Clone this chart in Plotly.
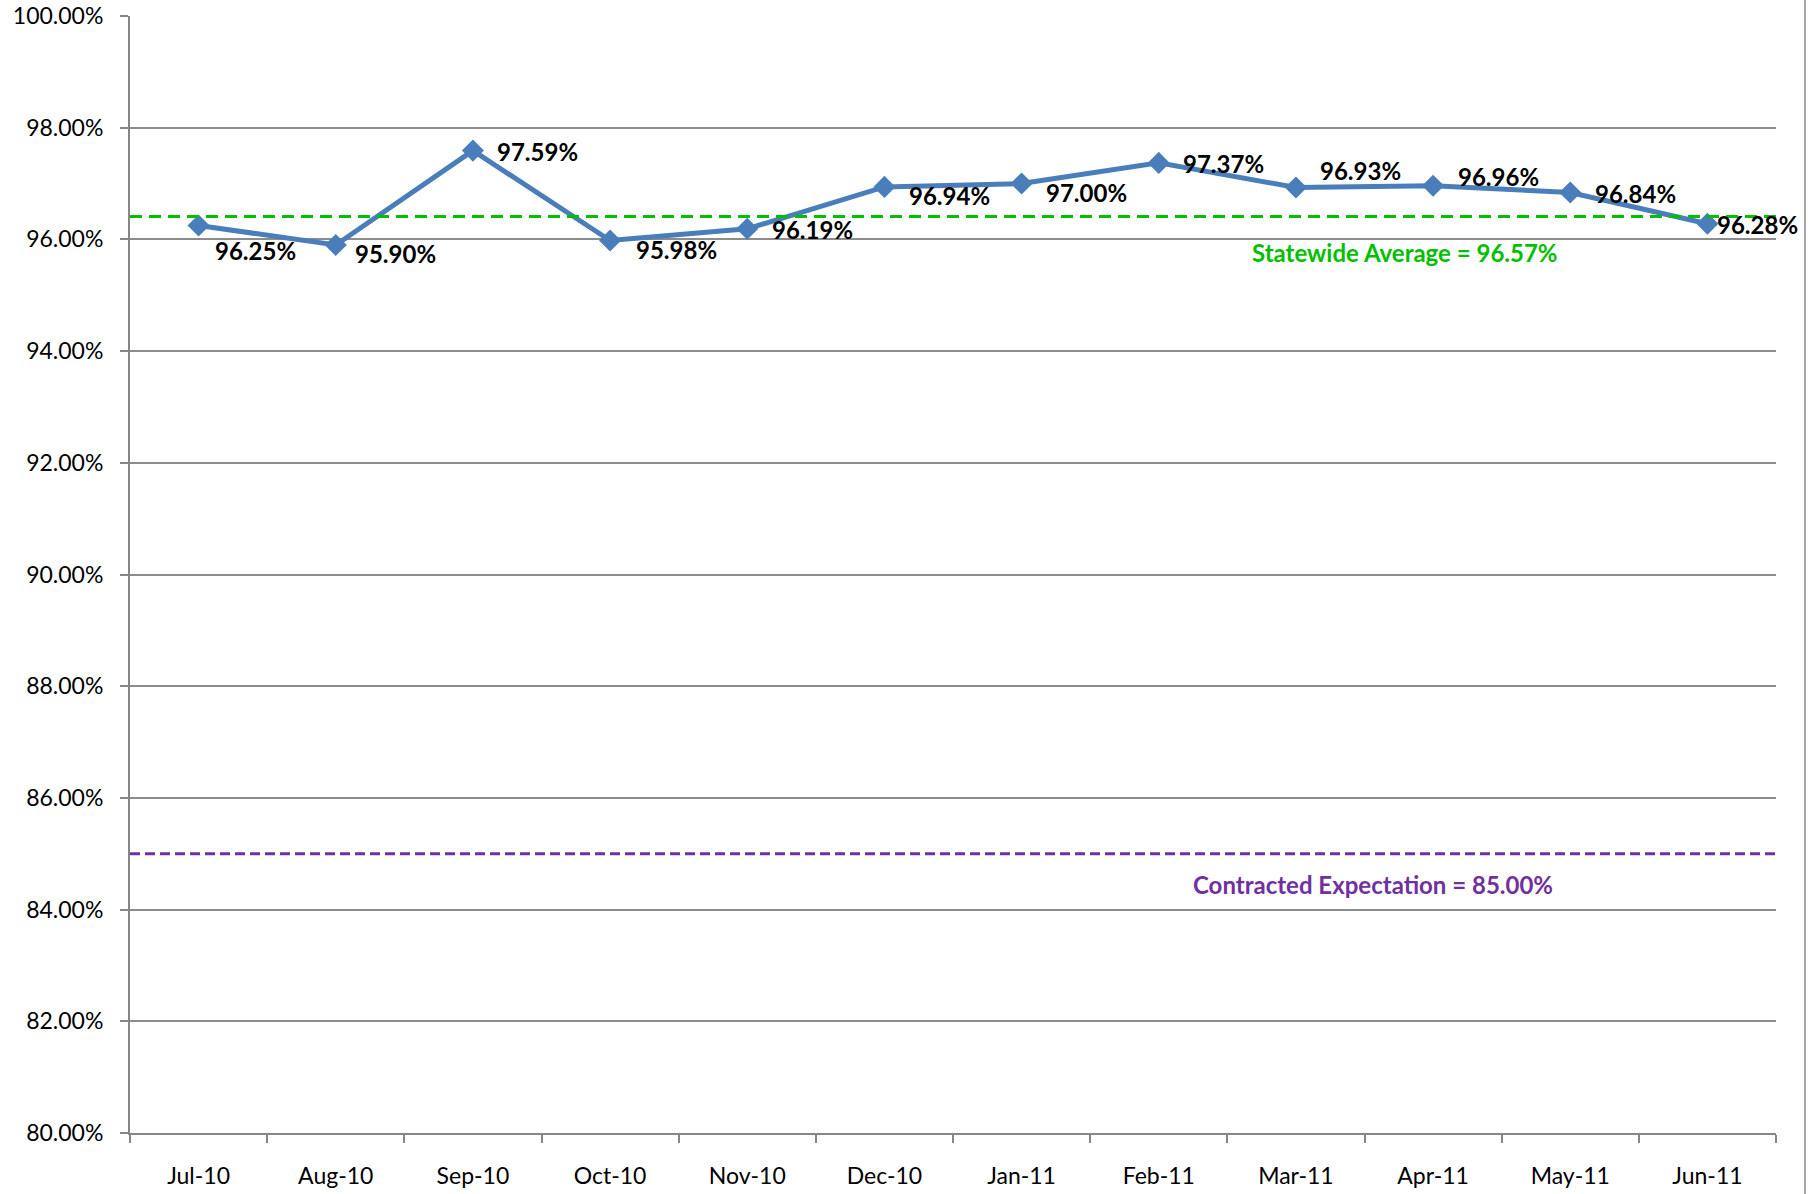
import plotly.graph_objects as go

months = ["Jul-10", "Aug-10", "Sep-10", "Oct-10", "Nov-10", "Dec-10",
          "Jan-11", "Feb-11", "Mar-11", "Apr-11", "May-11", "Jun-11"]
rates = [96.25, 95.90, 97.59, 95.98, 96.19, 96.94, 97.00, 97.37, 96.93, 96.96, 96.84, 96.28]
statewide_avg_line = 96.41
statewide_label = "Statewide Average = 96.57%"
contracted = 85.00
contracted_label = "Contracted Expectation = 85.00%"
y_ticks = [80, 82, 84, 86, 88, 90, 92, 94, 96, 98, 100]

# label offsets (pixels) for data labels
label_dx = [57, 60, 65, 66, 65, 65, 65, 65, 65, 65, 65, 50]
label_dy = [-25, -9, -1, -9, -1, -9, -9, -1, 17, 9, -1, -1]

FONT = "Lato, 'Open Sans', sans-serif"
fig = go.Figure()

fig.add_trace(go.Scatter(
    x=months, y=rates, mode="lines+markers",
    line=dict(color="#4a7ebb", width=5),
    marker=dict(symbol="diamond", size=17, color="#4a7ebb"),
    hoverinfo="x+y", showlegend=False,
))

for m, v, dx, dy in zip(months, rates, label_dx, label_dy):
    fig.add_annotation(x=m, y=v, text=f"<b>{v:.2f}%</b>", showarrow=False,
                       xshift=dx, yshift=dy, xanchor="center", yanchor="middle",
                       font=dict(family=FONT, size=24, color="#000000"))

fig.add_shape(type="line", xref="paper", yref="y", x0=0, x1=1,
              y0=statewide_avg_line, y1=statewide_avg_line,
              line=dict(color="#00c000", width=3, dash="12px,7px"))
fig.add_shape(type="line", xref="paper", yref="y", x0=0, x1=1,
              y0=contracted, y1=contracted,
              line=dict(color="#7030a0", width=3, dash="10px,5px"))

fig.add_annotation(xref="paper", yref="y", x=(1405 - 130) / 1646, y=statewide_avg_line,
                   yshift=-36, text=f"<b>{statewide_label}</b>", showarrow=False,
                   xanchor="center", yanchor="middle",
                   font=dict(family=FONT, size=24, color="#00c000"))
fig.add_annotation(xref="paper", yref="y", x=(1373 - 130) / 1646, y=contracted,
                   yshift=-31, text=f"<b>{contracted_label}</b>", showarrow=False,
                   xanchor="center", yanchor="middle",
                   font=dict(family=FONT, size=24, color="#7030a0"))

# right page border line
fig.add_shape(type="line", xref="paper", yref="paper", x0=(1805 - 130) / 1646,
              x1=(1805 - 130) / 1646, y0=-0.06, y1=1.02,
              line=dict(color="#a6a6a6", width=2))

fig.update_layout(
    width=1818, height=1194,
    margin=dict(l=130, r=42, t=16, b=61, autoexpand=False),
    paper_bgcolor="white", plot_bgcolor="white",
    font=dict(family=FONT, color="#000000"),
    xaxis=dict(type="category", range=[-0.5, 11.5], tickson="boundaries",
               automargin=False,
               ticks="outside", ticklen=8, tickcolor="#868686", tickwidth=2,
               showline=True, linecolor="#868686", linewidth=2, showgrid=False,
               tickfont=dict(size=23, family=FONT), ticklabelstandoff=21),
    yaxis=dict(range=[80, 100], tickvals=y_ticks,
               ticktext=[f"{t:.2f}%" for t in y_ticks],
               automargin=False,
               ticks="outside", ticklen=8, tickcolor="#868686", tickwidth=2,
               showline=True, linecolor="#868686", linewidth=2,
               showgrid=True, gridcolor="#8c8c8c", gridwidth=1.5,
               zeroline=False, tickfont=dict(size=23, family=FONT),
               ticklabelstandoff=12),
)

fig.write_html("out.html", config={"displayModeBar": False},
               post_script="document.body.style.margin='0';document.body.style.overflow='hidden';")
